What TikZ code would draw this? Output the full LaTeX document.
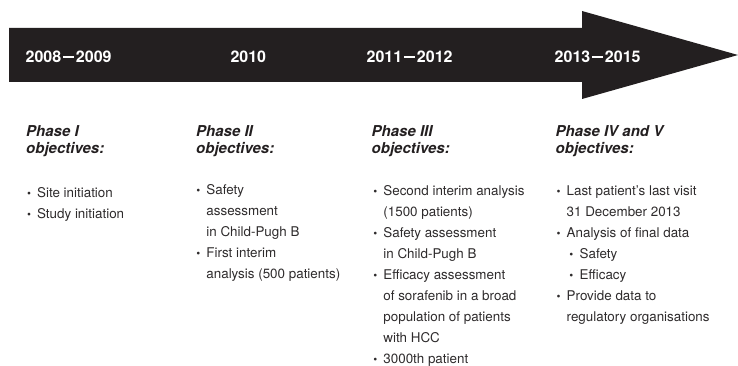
\documentclass[tikz,border=0pt]{standalone}
\usepackage{fontspec}
\setmainfont{TeX Gyre Heros}
\definecolor{ink}{HTML}{231F20}
\definecolor{bodyink}{HTML}{2E2B2C}
\newcommand\itm{\makebox[10pt][l]{\scalebox{0.85}{\textbullet}}}
\newcommand\subitm{\hspace{2.6pt}\makebox[10.4pt][l]{\scalebox{0.85}{\textbullet}}}
\newcommand\yd{\kern1.6pt\rule[4.6pt]{11.5pt}{1.8pt}\kern1.6pt}
\begin{document}
\begin{tikzpicture}[x=1pt,y=-1pt,
  year/.style={anchor=base west, inner sep=0, text=white, font=\fontsize{16}{19}\selectfont\bfseries},
  phase/.style={anchor=base west, inner sep=0, text=ink, font=\fontsize{15}{16.9}\selectfont\bfseries\itshape},
  items/.style={anchor=base west, inner sep=0, text=bodyink, font=\fontsize{13.4}{21.1}\selectfont}]
\useasboundingbox (0,0) rectangle (738,366);
\fill[ink] (9,28) -- (582,28) -- (582,11) -- (738,55) -- (582,99) -- (582,82) -- (9,82) -- cycle;
% years
\node[year] (y1) at (25.5,62.8) {2008\yd2009};
\node[year] (y2) at (230.3,62.8) {2010};
\node[year] (y3) at (366.5,62.8) {2011\yd2012};
\node[year] (y4) at (554.5,62.8) {2013\yd2015};
% phase headings
\node[phase] (p1) at (26,136.3) {\begin{tabular}[t]{@{}l@{}}Phase I\\objectives:\end{tabular}};
\node[phase] (p2) at (196,136.3) {\begin{tabular}[t]{@{}l@{}}Phase II\\objectives:\end{tabular}};
\node[phase] (p3) at (371.5,136.3) {\begin{tabular}[t]{@{}l@{}}Phase III\\objectives:\end{tabular}};
\node[phase] (p4) at (555.5,136.3) {\begin{tabular}[t]{@{}l@{}}Phase IV and V\\objectives:\end{tabular}};
% objectives
\node[items] (o1) at (26.9,197) {\begin{tabular}[t]{@{}l@{}l@{}}
\itm & Site initiation\\
\itm & Study initiation
\end{tabular}};
\node[items] (o2) at (196.2,194.5) {\begin{tabular}[t]{@{}l@{}l@{}}
\itm & Safety\\
 & assessment\\
 & in Child-Pugh B\\
\itm & First interim\\
 & analysis (500 patients)
\end{tabular}};
\node[items] (o3) at (373.2,195) {\begin{tabular}[t]{@{}l@{}l@{}}
\itm & Second interim analysis\\
 & (1500 patients)\\
\itm & Safety assessment\\
 & in Child-Pugh B\\
\itm & Efficacy assessment\\
 & of sorafenib in a broad\\
 & population of patients\\
 & with HCC\\
\itm & 3000th patient
\end{tabular}};
\node[items] (o4) at (556.5,195) {\begin{tabular}[t]{@{}l@{}l@{}}
\itm & Last patient’s last visit\\
 & 31 December 2013\\
\itm & Analysis of final data\\
 & \subitm Safety\\
 & \subitm Efficacy\\
\itm & Provide data to\\
 & regulatory organisations
\end{tabular}};
\end{tikzpicture}
\end{document}
